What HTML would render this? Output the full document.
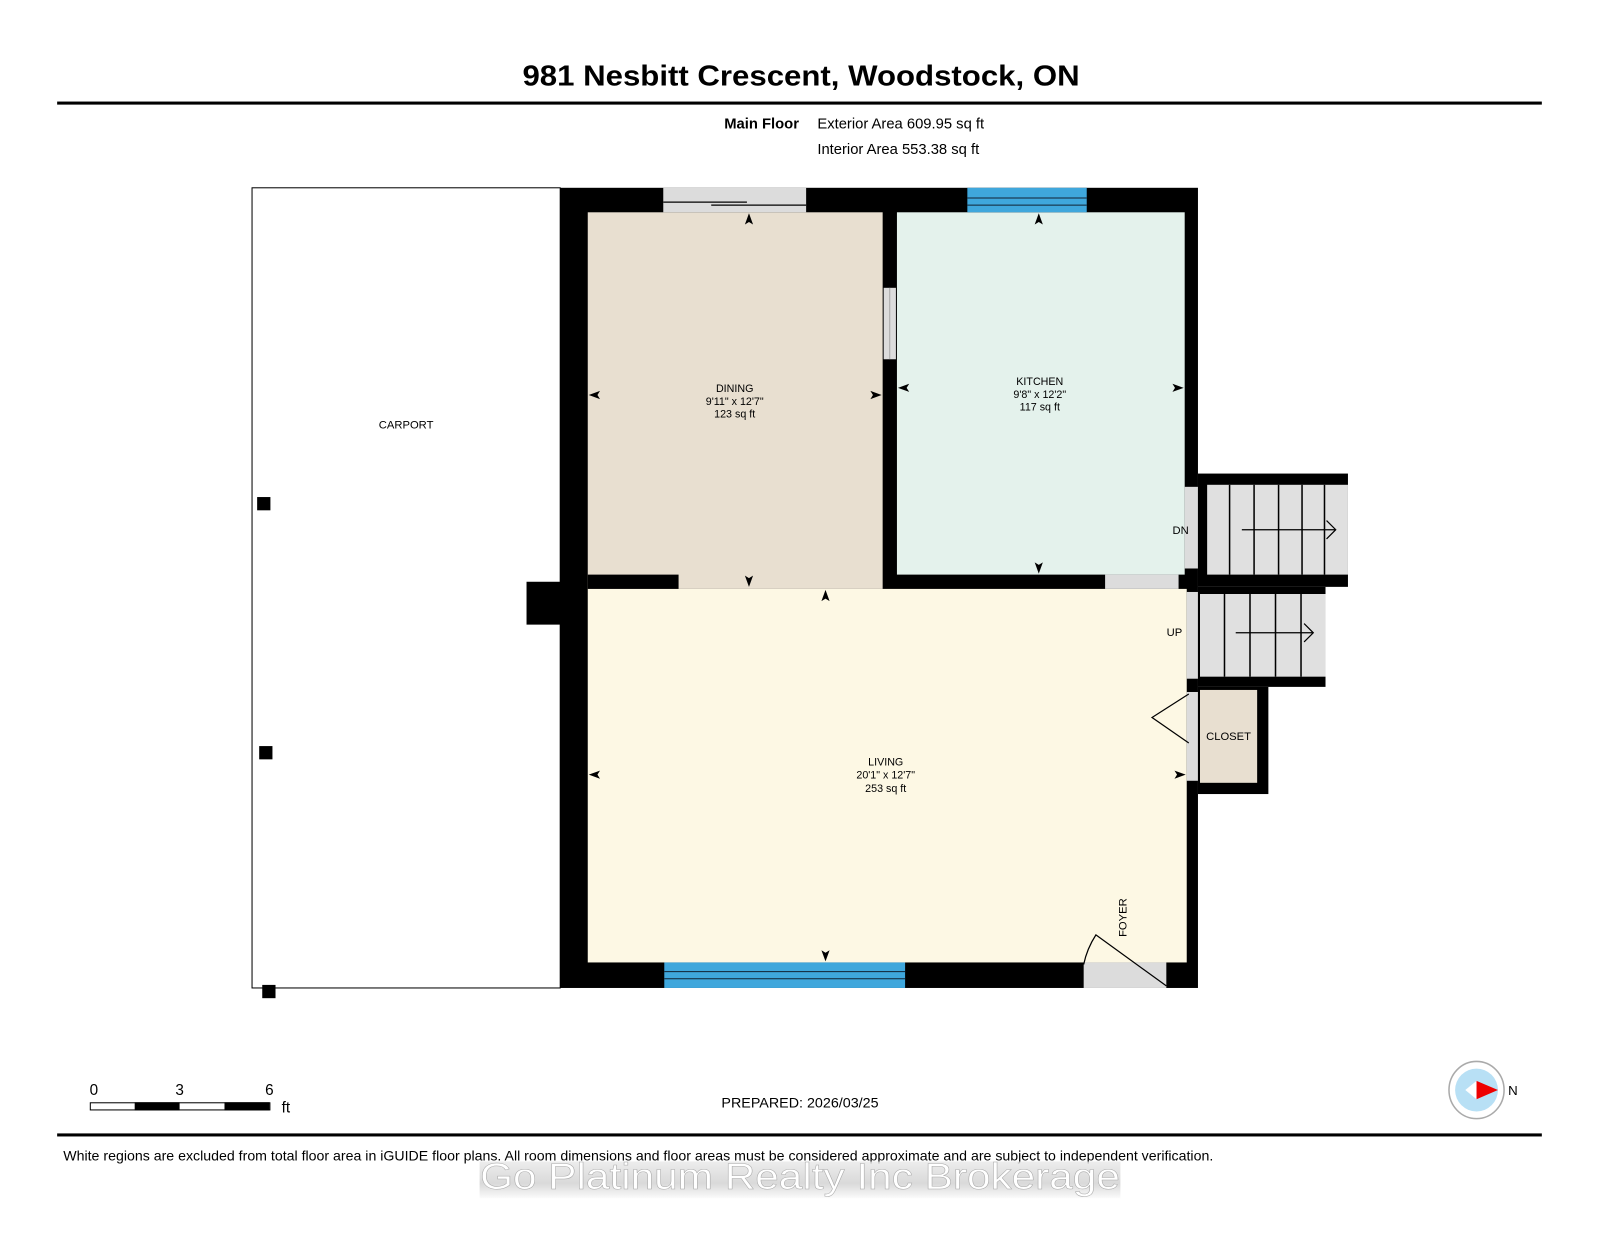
<!DOCTYPE html>
<html><head><meta charset="utf-8"><style>
html,body{margin:0;padding:0;background:#fff;}
svg{display:block;}
text{font-family:"Liberation Sans",sans-serif;}
</style></head><body>
<svg width="1600" height="1237" viewBox="0 0 1568 1212" preserveAspectRatio="none" xmlns="http://www.w3.org/2000/svg">
<defs>
<path id="au" d="M0,-7 L4,4 L0,1.5 L-4,4 Z" fill="#000"/>
<linearGradient id="wm" x1="0" y1="0" x2="0" y2="1">
<stop offset="0" stop-color="#e8e8e8"/><stop offset="0.6" stop-color="#d0d0d0"/><stop offset="1" stop-color="#fafafa"/>
</linearGradient>
</defs>
<text x="785" y="84" font-size="28" font-weight="bold" text-anchor="middle" textLength="546" lengthAdjust="spacingAndGlyphs">981 Nesbitt Crescent, Woodstock, ON</text>
<rect x="56" y="99.5" width="1455" height="3" fill="#000"/>
<text x="783" y="126" font-size="14.5" font-weight="bold" text-anchor="end">Main Floor</text>
<text x="801" y="126" font-size="14.5">Exterior Area 609.95 sq ft</text>
<text x="801" y="151" font-size="14.5">Interior Area 553.38 sq ft</text>

<rect x="247" y="184" width="302" height="784" fill="#fff" stroke="#000" stroke-width="1"/>
<text x="398" y="420" font-size="11" text-anchor="middle">CARPORT</text>
<rect x="252" y="487" width="13" height="13" fill="#000"/>
<rect x="254" y="731" width="13" height="13" fill="#000"/>
<rect x="257" y="965" width="13" height="13" fill="#000"/>

<rect x="549" y="184" width="625" height="784" fill="#000"/>
<rect x="516" y="570" width="34" height="42" fill="#000"/>
<rect x="576" y="208" width="289" height="369" fill="#e8dfd0"/>
<rect x="879" y="208" width="282" height="355" fill="#e4f2ec"/>
<rect x="576" y="577" width="587" height="366" fill="#fdf8e4"/>
<rect x="576" y="563" width="89" height="14" fill="#000"/>
<rect x="650" y="184" width="140" height="24" fill="#dcdcdc"/>
<line x1="650" y1="198" x2="732" y2="198" stroke="#000" stroke-width="1.2"/>
<line x1="697" y1="201" x2="790" y2="201" stroke="#000" stroke-width="1.2"/>
<rect x="948" y="184" width="117" height="24" fill="#3fa7dc"/>
<line x1="948" y1="194" x2="1065" y2="194" stroke="#123" stroke-width="1"/>
<line x1="948" y1="201" x2="1065" y2="201" stroke="#123" stroke-width="1"/>
<rect x="866" y="282" width="12" height="70" fill="#dcdcdc"/>
<line x1="872" y1="282" x2="872" y2="352" stroke="#999" stroke-width="0.8"/>
<rect x="1083" y="563" width="72" height="14" fill="#dcdcdc"/>
<rect x="651" y="943" width="236" height="25" fill="#3fa7dc"/>
<line x1="651" y1="952" x2="887" y2="952" stroke="#123" stroke-width="1"/>
<line x1="651" y1="959" x2="887" y2="959" stroke="#123" stroke-width="1"/>
<rect x="1062" y="943" width="81" height="25" fill="#dcdcdc"/>
<path d="M1143,966 L1074,916 A85,85 0 0 0 1062,945" fill="none" stroke="#000" stroke-width="1.2"/>
<text transform="translate(1104,918) rotate(-90)" font-size="11">FOYER</text>
<rect x="1161" y="477" width="13" height="80" fill="#dcdcdc"/>
<rect x="1163" y="580" width="11" height="85" fill="#dcdcdc"/>
<rect x="1163" y="678" width="11" height="87" fill="#dcdcdc"/>
<rect x="1174" y="464" width="147" height="111" fill="#000"/>
<rect x="1183" y="475" width="138" height="88" fill="#e0e0e0"/>
<g stroke="#000" stroke-width="1.5">
<line x1="1205" y1="475" x2="1205" y2="563"/><line x1="1229" y1="475" x2="1229" y2="563"/>
<line x1="1253" y1="475" x2="1253" y2="563"/><line x1="1276" y1="475" x2="1276" y2="563"/>
<line x1="1298" y1="475" x2="1298" y2="563"/>
</g>
<path d="M1217,519 H1308 M1300,510 L1309,519 L1300,528" fill="none" stroke="#000" stroke-width="1.2"/>
<text x="1157" y="523" font-size="11" text-anchor="middle">DN</text>
<rect x="1174" y="575" width="125" height="98" fill="#000"/>
<rect x="1176" y="582" width="123" height="81" fill="#e0e0e0"/>
<g stroke="#000" stroke-width="1.5">
<line x1="1200" y1="582" x2="1200" y2="663"/><line x1="1225" y1="582" x2="1225" y2="663"/>
<line x1="1250" y1="582" x2="1250" y2="663"/><line x1="1275" y1="582" x2="1275" y2="663"/>
</g>
<path d="M1211,620 H1286 M1278,611 L1287,620 L1278,629" fill="none" stroke="#000" stroke-width="1.2"/>
<text x="1151" y="623" font-size="11" text-anchor="middle">UP</text>
<rect x="1174" y="673" width="69" height="105" fill="#000"/>
<rect x="1176" y="676" width="56" height="91" fill="#e8dfd0"/>
<text x="1204" y="725" font-size="11" text-anchor="middle">CLOSET</text>
<path d="M1165,680 L1129,703 L1165,728" fill="none" stroke="#000" stroke-width="1.2"/>

<g font-size="10.5" text-anchor="middle">
<text x="720" y="384">DINING</text><text x="720" y="397">9'11" x 12'7"</text><text x="720" y="409">123 sq ft</text>
<text x="1019" y="377">KITCHEN</text><text x="1019" y="390">9'8" x 12'2"</text><text x="1019" y="402">117 sq ft</text>
<text x="868" y="750">LIVING</text><text x="868" y="763">20'1" x 12'7"</text><text x="868" y="776">253 sq ft</text>
</g>
<use href="#au" transform="translate(734,216)"/>
<use href="#au" transform="translate(734,568) rotate(180)"/>
<use href="#au" transform="translate(584,387) rotate(-90)"/>
<use href="#au" transform="translate(857,387) rotate(90)"/>
<use href="#au" transform="translate(1018,216)"/>
<use href="#au" transform="translate(1018,555) rotate(180)"/>
<use href="#au" transform="translate(887,380) rotate(-90)"/>
<use href="#au" transform="translate(1153,380) rotate(90)"/>
<use href="#au" transform="translate(809,585)"/>
<use href="#au" transform="translate(809,935) rotate(180)"/>
<use href="#au" transform="translate(584,759) rotate(-90)"/>
<use href="#au" transform="translate(1155,759) rotate(90)"/>

<g font-size="15">
<text x="92" y="1073" text-anchor="middle">0</text>
<text x="176" y="1073" text-anchor="middle">3</text>
<text x="264" y="1073" text-anchor="middle">6</text>
<text x="276" y="1090">ft</text>
</g>
<rect x="88.5" y="1080.5" width="176" height="7" fill="#fff" stroke="#000" stroke-width="1"/>
<rect x="132" y="1080" width="44" height="8" fill="#000"/>
<rect x="220" y="1080" width="44" height="8" fill="#000"/>
<text x="784" y="1085" font-size="13.5" text-anchor="middle" textLength="154" lengthAdjust="spacingAndGlyphs">PREPARED: 2026/03/25</text>
<ellipse cx="1447" cy="1068" rx="27" ry="28" fill="#fff" stroke="#aaa" stroke-width="1.5"/>
<circle cx="1447" cy="1068" r="21" fill="#b8e0f5"/>
<path d="M1436,1068 L1447,1059 L1447,1077 Z" fill="#fff"/>
<path d="M1447,1059 L1468,1068 L1447,1077 Z" fill="#e00"/>
<text x="1478" y="1073" font-size="13">N</text>

<rect x="56" y="1110.5" width="1455" height="3" fill="#000"/>
<text x="62" y="1137" font-size="13.5" textLength="1127" lengthAdjust="spacingAndGlyphs">White regions are excluded from total floor area in iGUIDE floor plans. All room dimensions and floor areas must be considered approximate and are subject to independent verification.</text>
<rect x="470" y="1138" width="628" height="36" fill="url(#wm)" opacity="0.8"/>
<text x="784" y="1165" font-size="36" text-anchor="middle" fill="#fff" stroke="#aaa" stroke-width="0.5" textLength="627" lengthAdjust="spacingAndGlyphs">Go Platinum Realty Inc Brokerage</text>
</svg>
</body></html>
